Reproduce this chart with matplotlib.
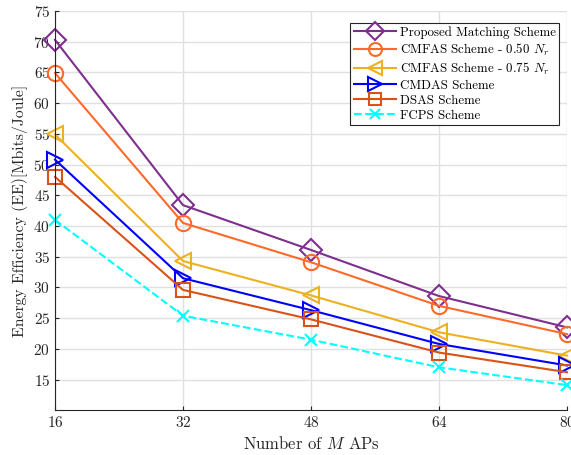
import matplotlib
matplotlib.use('Agg')
import matplotlib.pyplot as plt

# EE vs number of APs for each scheme
aps = [16, 32, 48, 64, 80]
proposed = [70.3, 43.4, 36.1, 28.6, 23.5]
cmfas_050 = [64.9, 40.5, 34.1, 27.0, 22.4]
cmfas_075 = [54.9, 34.3, 28.7, 22.7, 18.9]
cmdas = [50.8, 31.5, 26.3, 20.8, 17.3]
dsas = [48.0, 29.6, 24.8, 19.4, 16.2]
fcps = [41.0, 25.4, 21.5, 17.0, 14.1]

plt.rcParams['font.family'] = 'cmr10'
plt.rcParams['mathtext.fontset'] = 'cm'
plt.rcParams['axes.formatter.use_mathtext'] = True

fig = plt.figure(figsize=(5.71, 4.55), dpi=100)
ax = fig.add_axes([55 / 571, 45 / 455, 512 / 571, 399 / 455])

series = [
    (proposed, 'Proposed Matching Scheme', '#7E2F8E', 'D', '-', 11),
    (cmfas_050, 'CMFAS Scheme - 0.50 $N_r$', '#FF6929', 'o', '-', 11),
    (cmfas_075, 'CMFAS Scheme - 0.75 $N_r$', '#EDB120', '<', '-', 12),
    (cmdas, 'CMDAS Scheme', '#0000FF', '>', '-', 12),
    (dsas, 'DSAS Scheme', '#D95319', 's', '-', 10),
    (fcps, 'FCPS Scheme', '#00FFFF', 'x', '--', 9),
]
for vals, name, color, marker, ls, ms in series:
    ax.plot(aps, vals, color=color, marker=marker, linestyle=ls, lw=1.5,
            markersize=ms, markerfacecolor='none', markeredgewidth=1.5,
            label=name, clip_on=False)

ax.set_xlim(16, 80)
ax.set_ylim(10.05, 75)
ax.set_xticks(aps)
ax.set_yticks(range(15, 80, 5))
ax.grid(True, color='#E0E0E0', lw=1)
ax.set_axisbelow(True)
for s in ['top', 'right']:
    ax.spines[s].set_visible(False)
for s in ['left', 'bottom']:
    ax.spines[s].set_color('#262626')
ax.tick_params(direction='in', labelsize=11, colors='#262626', length=3)

ax.set_xlabel('Number of $M$ APs', fontsize=12, color='#262626')
ax.set_ylabel('Energy Efficiency (EE)[Mbits/Joule]', fontsize=11.3, color='#262626')

leg = ax.legend(loc='upper right', bbox_to_anchor=(0.985, 0.97), fontsize=9.3,
                fancybox=False, framealpha=1, edgecolor='#262626',
                handlelength=3.3, borderpad=0.25, labelspacing=0.22,
                handletextpad=0.3, borderaxespad=0, markerscale=0.85)
leg.get_frame().set_linewidth(0.8)

fig.savefig('out.png', dpi=100)
